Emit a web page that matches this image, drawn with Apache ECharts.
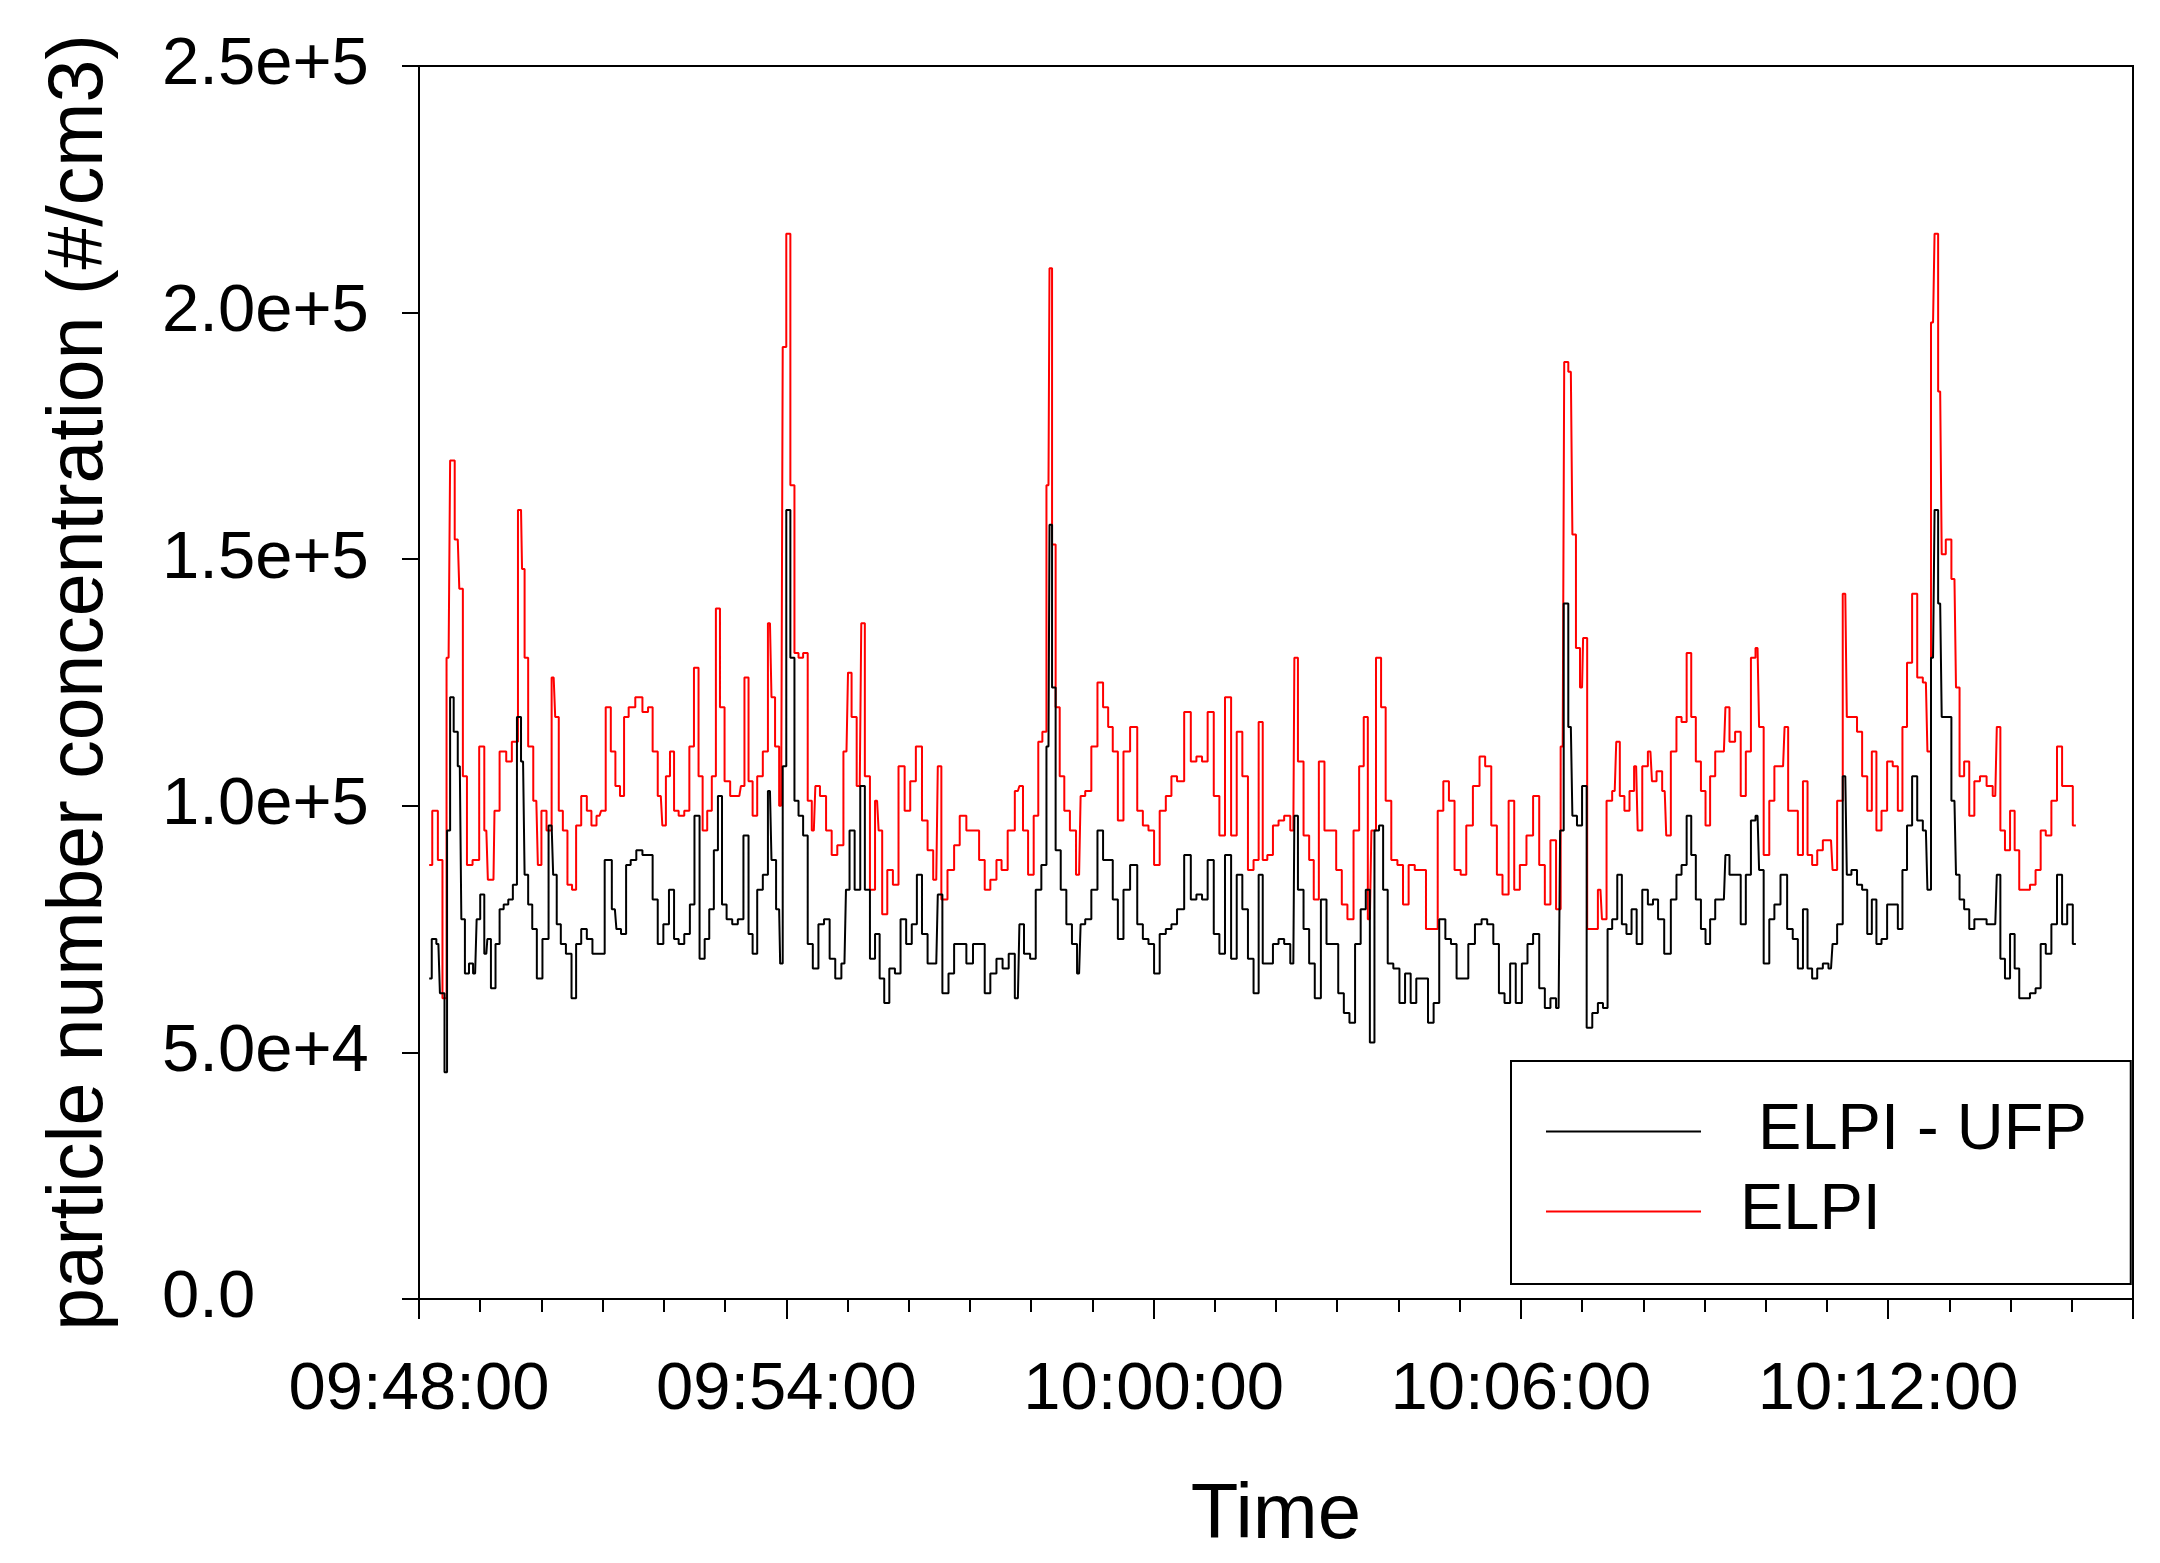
<!DOCTYPE html>
<html>
<head>
<meta charset="utf-8">
<script src="https://cdn.jsdelivr.net/npm/echarts@6/dist/echarts.min.js"></script>
<style>
html,body{margin:0;padding:0;background:#fff;}
#chart{width:2160px;height:1563px;}
</style>
</head>
<body>
<div id="chart"></div>
<script>
// Time is in seconds after 09:48:00; concentrations are in thousands of #/cm3.
const startClock = [9, 48, 0];
const xMaxSeconds = 1680;
const xTickStep = 360;
const yTicks = [0, 50000, 100000, 150000, 200000, 250000];
const seriesNames = [' ELPI - UFP', 'ELPI'];

const elpiReadings = [
[10,88],[16,99],[21,89],[25,61],[29,130],[32,170],[38,154],[41,144],[45,106],[49,88],[56,89],[62,112],[66,95],[69,85],[73,85],[75,99],[83,111],[88,109],[94,113],[100,160],[102,148],[105,130],[109,112],[115,101],[118,88],[122,99],[128,95],[132,126],[135,118],[139,99],[143,95],[148,84],[152,83],[156,96],[162,102],[167,99],[171,96],[177,98],[180,99],[186,120],[190,111],[195,104],[199,102],[203,118],[208,120],[216,122],[222,119],[227,120],[231,111],[237,102],[240,96],[244,106],[248,111],[252,99],[257,98],[263,99],[267,112],[272,128],[276,106],[280,95],[285,99],[289,106],[293,140],[297,120],[302,105],[308,102],[314,102],[317,104],[321,126],[325,105],[329,98],[334,106],[340,111],[344,137],[347,122],[351,112],[355,100],[358,193],[362,216],[366,165],[370,131],[374,130],[379,131],[383,101],[387,95],[390,104],[396,102],[402,95],[407,90],[413,92],[419,111],[422,127],[426,118],[432,104],[435,137],[439,106],[445,83],[449,101],[452,95],[456,78],[462,87],[467,84],[473,108],[479,99],[484,105],[490,112],[496,97],[501,91],[507,85],[510,108],[514,81],[522,87],[527,92],[533,98],[540,95],[546,95],[552,89],[557,83],[563,85],[569,89],
[573,87],[581,95],[587,103],[590,104],[594,95],[600,86],[605,98],[609,113],[613,115],[617,165],[619,209],[622,153],[626,120],[630,106],[635,99],[641,95],[647,86],[650,102],[656,103],[662,112],[668,125],[673,120],[678,116],[682,111],[688,97],[693,111],[701,116],[707,99],[712,96],[718,95],[723,88],[729,99],[735,102],[740,106],[746,105],[754,119],[759,109],[765,110],[770,109],[776,119],[782,102],[787,94],[793,122],[799,94],[804,115],[810,106],[815,87],[821,89],[825,117],[829,89],[834,90],[840,96],[845,97],[851,98],[857,95],[859,130],[864,109],[870,94],[875,89],[879,81],[885,109],[890,95],[896,95],[902,87],[907,80],[913,77],[919,95],[924,108],[928,118],[932,77],[935,95],[941,130],[945,120],[950,101],[956,89],[962,88],[967,80],[973,88],[979,87],[984,87],[990,75],[996,75],[1001,99],[1007,105],[1012,101],[1018,87],[1024,86],[1029,96],[1037,104],[1042,110],[1048,108],[1054,96],[1059,86],[1065,82],[1071,101],[1076,83],[1082,88],[1089,94],[1095,102],[1101,88],[1106,80],[1112,93],[1117,79],[1121,112],[1124,190],[1129,188],[1132,155],[1136,132],[1140,124],[1142,134],[1148,75],[1153,75],
[1158,83],[1161,77],[1167,101],[1172,103],[1175,113],[1179,102],[1184,99],[1189,103],[1193,108],[1196,95],[1202,108],[1207,111],[1210,105],[1216,107],[1221,103],[1224,94],[1230,111],[1235,118],[1240,117],[1245,131],[1249,118],[1254,109],[1259,103],[1263,96],[1268,106],[1273,111],[1279,111],[1282,120],[1287,113],[1293,115],[1298,102],[1303,111],[1308,130],[1312,132],[1315,116],[1321,90],[1326,101],[1331,108],[1337,108],[1340,116],[1344,99],[1349,99],[1354,90],[1359,105],[1363,90],[1368,88],[1373,91],[1379,93],[1384,93],[1387,87],[1393,101],[1398,143],[1401,118],[1407,118],[1412,115],[1417,106],[1422,99],[1426,111],[1431,95],[1436,99],[1442,109],[1447,108],[1452,99],[1456,116],[1461,129],[1466,143],[1471,126],[1477,125],[1480,111],[1484,198],[1487,216],[1491,184],[1494,151],[1499,154],[1505,146],[1508,124],[1512,106],[1517,109],[1522,98],[1527,105],[1533,106],[1540,104],[1545,102],[1548,116],[1552,95],[1557,91],[1562,99],[1566,91],[1571,83],[1576,83],[1582,84],[1587,87],[1592,95],[1597,94],[1603,101],[1608,112],[1613,104],[1618,104],[1624,96]
];

const ufpReadings = [
[10,65],[15,73],[19,72],[22,62],[24,62],[26,46],[29,95],[32,122],[36,115],[40,108],[43,77],[47,66],[51,68],[55,66],[58,77],[62,82],[66,70],[68,73],[73,63],[77,72],[81,79],[85,80],[90,81],[94,84],[98,118],[102,109],[105,86],[109,80],[113,75],[118,65],[124,73],[130,96],[133,86],[137,76],[141,72],[147,70],[152,61],[156,72],[162,75],[167,73],[173,70],[178,70],[186,89],[192,79],[195,75],[201,74],[205,88],[210,89],[216,91],[222,90],[227,90],[231,81],[237,72],[242,76],[248,83],[252,73],[257,72],[263,74],[268,80],[272,98],[278,69],[282,73],[287,79],[291,91],[295,102],[299,80],[304,77],[310,76],[315,77],[321,94],[325,74],[329,70],[334,83],[340,86],[344,103],[347,89],[353,79],[355,68],[358,108],[362,160],[366,130],[370,101],[374,98],[379,94],[383,72],[389,67],[394,76],[400,77],[405,69],[411,65],[417,68],[420,83],[424,95],[430,83],[435,104],[439,83],[445,69],[449,74],[454,65],[458,60],[464,67],[469,66],[475,77],[480,72],[486,76],[490,86],[496,74],[501,68],[507,68],[510,82],[516,62],[522,66],[527,72],[533,72],[540,68],[546,72],[552,72],[557,62],[563,66],[569,69],
[575,67],[581,70],[587,61],[590,76],[596,70],[602,69],[607,83],[613,88],[617,112],[619,157],[622,124],[626,91],[632,83],[637,76],[643,72],[647,66],[650,76],[656,77],[662,83],[668,95],[673,89],[678,89],[682,81],[688,73],[693,83],[701,88],[707,76],[712,73],[718,72],[723,66],[729,74],[735,75],[740,76],[746,79],[754,90],[759,81],[765,82],[770,81],[776,89],[782,74],[787,70],[793,90],[799,69],[804,86],[810,79],[815,69],[821,62],[825,86],[829,68],[834,68],[840,72],[845,73],[851,72],[857,68],[859,98],[864,83],[870,75],[875,68],[881,61],[887,81],[892,72],[898,72],[904,62],[909,58],[915,56],[920,72],[926,79],[930,83],[934,52],[939,95],[943,96],[947,83],[952,68],[958,67],[964,60],[969,66],[975,60],[980,65],[986,65],[992,56],[997,60],[1003,77],[1009,73],[1014,72],[1020,65],[1026,65],[1031,72],[1039,76],[1044,77],[1050,76],[1056,72],[1061,62],[1067,60],[1072,68],[1078,60],[1084,68],[1089,72],[1095,74],[1101,63],[1106,59],[1112,61],[1117,59],[1120,95],[1124,141],[1129,116],[1132,98],[1138,96],[1142,104],[1147,55],[1153,58],
[1158,60],[1163,59],[1167,75],[1172,77],[1177,86],[1181,76],[1186,74],[1191,79],[1196,72],[1202,83],[1207,80],[1212,81],[1217,77],[1224,70],[1230,81],[1235,86],[1240,88],[1245,98],[1249,90],[1254,81],[1259,75],[1263,72],[1268,77],[1273,81],[1279,81],[1282,90],[1287,86],[1293,86],[1298,76],[1303,86],[1308,97],[1312,98],[1315,87],[1321,68],[1326,77],[1331,80],[1338,86],[1344,75],[1349,73],[1354,67],[1359,79],[1363,67],[1368,65],[1373,67],[1379,68],[1384,67],[1387,72],[1393,76],[1398,106],[1401,86],[1407,87],[1412,84],[1417,83],[1422,74],[1426,81],[1431,72],[1436,73],[1442,80],[1447,80],[1452,75],[1456,87],[1461,96],[1466,106],[1471,97],[1477,95],[1480,83],[1484,130],[1487,160],[1491,141],[1494,118],[1499,118],[1505,101],[1508,86],[1512,81],[1517,79],[1522,75],[1527,77],[1533,77],[1540,76],[1545,76],[1548,86],[1552,69],[1557,65],[1562,74],[1566,67],[1571,61],[1576,61],[1582,62],[1587,63],[1592,72],[1597,70],[1603,76],[1608,86],[1613,76],[1618,80],[1624,72]
];

const toData = rows => rows.map(r => [r[0], r[1] * 1000]);

function clockLabel(sec) {
  if (sec % xTickStep !== 0) return '';
  const tot = startClock[0] * 3600 + startClock[1] * 60 + startClock[2] + sec;
  const p = n => String(n).padStart(2, '0');
  return p(Math.floor(tot / 3600)) + ':' + p(Math.floor(tot % 3600 / 60)) + ':' + p(tot % 60);
}
function sciLabel(v) {
  if (v === 0) return '0.0';
  const e = Math.floor(Math.log10(v) + 1e-9);
  return (v / Math.pow(10, e)).toFixed(1) + 'e+' + e;
}

const FONT = '"Liberation Sans", Arial, Helvetica, sans-serif';
const chart = echarts.init(document.getElementById('chart'), null, {renderer: 'canvas'});
chart.setOption({
  animation: false,
  backgroundColor: '#fff',
  textStyle: {fontFamily: FONT, color: '#000'},
  grid: {left: 419, top: 66, right: 27, bottom: 264, show: true, borderColor: '#000', borderWidth: 2, backgroundColor: 'transparent'},
  xAxis: [{
    type: 'value', min: 0, max: xMaxSeconds, interval: xTickStep, position: 'bottom',
    axisLine: {lineStyle: {color: '#000', width: 2}},
    axisTick: {length: 20, lineStyle: {color: '#000', width: 2}},
    axisLabel: {formatter: clockLabel, fontSize: 67, color: '#000', fontFamily: FONT, margin: 58},
    splitLine: {show: false},
    name: 'Time', nameLocation: 'middle', nameGap: 178,
    nameTextStyle: {fontSize: 78, color: '#000', fontFamily: FONT}
  }, {
    type: 'value', min: 0, max: xMaxSeconds, interval: 60, position: 'bottom',
    axisLine: {show: false},
    axisTick: {length: 13, lineStyle: {color: '#000', width: 2}},
    axisLabel: {show: false},
    splitLine: {show: false}
  }],
  yAxis: {
    type: 'value', min: yTicks[0], max: yTicks[yTicks.length - 1], interval: yTicks[1] - yTicks[0],
    axisLine: {show: true, lineStyle: {color: '#000', width: 2}},
    axisTick: {show: true, length: 17, lineStyle: {color: '#000', width: 2}},
    axisLabel: {formatter: sciLabel, fontSize: 67, color: '#000', fontFamily: FONT, margin: 257, align: 'left'},
    splitLine: {show: false},
    name: 'particle number concentration (#/cm3)', nameLocation: 'middle', nameRotate: 90, nameGap: 300,
    nameTextStyle: {fontSize: 77, color: '#000', fontFamily: FONT}
  },
  legend: {
    data: seriesNames, orient: 'vertical', left: 1511, top: 1061,
    icon: 'rect', itemWidth: 155, itemHeight: 2, itemGap: 15,
    padding: [38, 44, 40, 35],
    borderColor: '#000', borderWidth: 2, backgroundColor: '#fff',
    selectedMode: false,
    textStyle: {fontSize: 65, color: '#000', fontFamily: FONT, padding: [14, 0, 0, 34]}
  },
  series: [{
    name: seriesNames[1], type: 'line', step: 'middle', symbol: 'none', xAxisIndex: 0,
    data: toData(elpiReadings), color: '#ff0000',
    lineStyle: {color: '#ff0000', width: 2}, z: 2
  }, {
    name: seriesNames[0], type: 'line', step: 'middle', symbol: 'none', xAxisIndex: 0,
    data: toData(ufpReadings), color: '#000000',
    lineStyle: {color: '#000000', width: 2}, z: 3
  }]
});
</script>
</body>
</html>
